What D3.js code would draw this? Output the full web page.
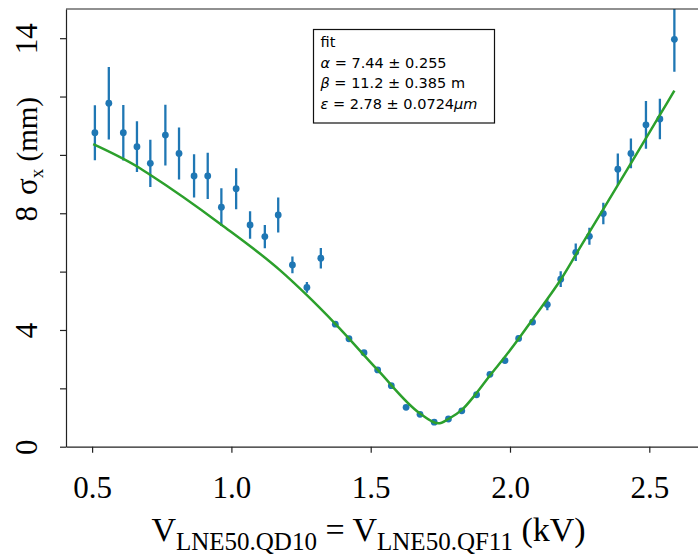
<!DOCTYPE html>
<html>
<head>
<meta charset="utf-8">
<script src="https://cdn.jsdelivr.net/npm/d3@7"></script>
<style>
  body { margin: 0; background: #fff; }
  svg { display: block; }
</style>
</head>
<body>
<div id="chart"></div>
<script>
const width = 698;
const height = 557;

// measured beam size vs quadrupole voltage
const voltage = [0.510, 0.560, 0.612, 0.661, 0.709, 0.763, 0.812, 0.866, 0.915, 0.964,
    1.017, 1.067, 1.120, 1.168, 1.219, 1.271, 1.321, 1.373, 1.422, 1.476,
    1.525, 1.574, 1.627, 1.677, 1.728, 1.779, 1.827, 1.880, 1.928, 1.982,
    2.031, 2.081, 2.134, 2.182, 2.236, 2.285, 2.335, 2.387, 2.434, 2.488,
    2.538, 2.590];
const sigma = [10.76, 11.77, 10.76, 10.28, 9.71, 10.68, 10.05, 9.28, 9.28, 8.21,
    8.84, 7.60, 7.20, 7.94, 6.23, 5.46, 6.46, 4.20, 3.70, 3.22,
    2.63, 2.09, 1.35, 1.11, 0.84, 0.95, 1.23, 1.78, 2.48, 2.95,
    3.71, 4.27, 4.87, 5.74, 6.66, 7.21, 7.99, 9.51, 10.05, 11.03,
    11.23, 13.96];
const sigmaErr = [0.94, 1.24, 0.95, 0.87, 0.81, 1.04, 0.89, 0.74, 0.79, 0.65,
    0.70, 0.47, 0.40, 0.60, 0.29, 0.18, 0.35, 0.08, 0.08, 0.08,
    0.08, 0.08, 0.08, 0.08, 0.08, 0.08, 0.08, 0.08, 0.08, 0.08,
    0.10, 0.10, 0.19, 0.27, 0.30, 0.29, 0.37, 0.54, 0.51, 0.82,
    0.69, 1.11];

// fitted curve
const fitVoltage = [0.504, 0.660, 0.708, 0.964, 1.174, 1.270, 1.373, 1.525, 1.677, 1.743,
    1.779, 1.827, 1.880, 1.928, 1.982, 2.031, 2.081, 2.134, 2.182, 2.255,
    2.335, 2.434, 2.538, 2.590];
const fitSigma = [10.37, 9.61, 9.32, 7.61, 6.05, 5.20, 4.21, 2.63, 1.14, 0.80,
    0.95, 1.26, 1.84, 2.44, 3.08, 3.70, 4.36, 5.06, 5.72, 6.88,
    8.14, 9.71, 11.37, 12.20];

const xTicks = [0.5, 1.0, 1.5, 2.0, 2.5];
const yTicks = [0, 2, 4, 6, 8, 10, 12, 14];
const yTickLabels = [0, 4, 8, 14];

const fitSymbols = ["α", "β", "ε"];
const fitValues = ["7.44", "11.2", "2.78"];
const fitErrors = ["0.255", "0.385", "0.0724"];
const fitUnits = ["", " m", "μm"];

const serif = "'Liberation Serif', 'Times New Roman', serif";
const sans = "'DejaVu Sans', sans-serif";
const blue = "#1f77b4";
const green = "#2ca02c";

const plot = {left: 66, top: 9, bottom: 446.7, right: 698};

const svg = d3.select("#chart")
    .append("svg")
    .attr("width", width)
    .attr("height", height);

const x = d3.scaleLinear()
    .domain([0.4063, 2.6748])
    .range([plot.left, plot.right]);

const y = d3.scaleLinear()
    .domain([0, 15])
    .range([plot.bottom, plot.top]);

svg.append("defs").append("clipPath")
    .attr("id", "plot-clip")
    .append("rect")
    .attr("x", plot.left)
    .attr("y", plot.top)
    .attr("width", plot.right - plot.left + 10)
    .attr("height", plot.bottom - plot.top);

const data = voltage.map((v, i) => ({v: v, s: sigma[i], e: sigmaErr[i]}));
const fitData = fitVoltage.map((v, i) => ({v: v, s: fitSigma[i]}));

const g = svg.append("g").attr("clip-path", "url(#plot-clip)");

// error bars
g.append("g")
    .selectAll("line")
    .data(data)
    .enter().append("line")
    .attr("x1", d => x(d.v))
    .attr("x2", d => x(d.v))
    .attr("y1", d => y(d.s - d.e))
    .attr("y2", d => y(d.s + d.e))
    .attr("stroke", blue)
    .attr("stroke-width", 2.3);

g.append("g")
    .selectAll("circle")
    .data(data)
    .enter().append("circle")
    .attr("cx", d => x(d.v))
    .attr("cy", d => y(d.s))
    .attr("r", 3.4)
    .attr("fill", blue);

const line = d3.line()
    .x(d => x(d.v))
    .y(d => y(d.s))
    .curve(d3.curveMonotoneX);

g.append("path")
    .datum(fitData)
    .attr("d", line)
    .attr("fill", "none")
    .attr("stroke", green)
    .attr("stroke-width", 2.5);

// axes
const xAxis = svg.append("g")
    .attr("transform", `translate(0,${plot.bottom})`)
    .call(d3.axisBottom(x)
        .tickValues(xTicks)
        .tickFormat(d3.format(".1f"))
        .tickSize(6)
        .tickSizeOuter(0));

xAxis.selectAll("text")
    .attr("y", 51)
    .attr("dy", 0)
    .attr("fill", "#000")
    .style("font-family", serif)
    .style("font-size", "31px");

const yAxis = svg.append("g")
    .attr("transform", `translate(${plot.left},0)`)
    .call(d3.axisLeft(y)
        .tickValues(yTicks)
        .tickFormat(d => yTickLabels.includes(d) ? d : "")
        .tickSize(6)
        .tickSizeOuter(0));

yAxis.selectAll("text")
    .attr("x", 0)
    .attr("y", -29)
    .attr("dy", 0)
    .attr("text-anchor", "middle")
    .attr("transform", "rotate(-90)")
    .attr("fill", "#000")
    .style("font-family", serif)
    .style("font-size", "31px");

svg.selectAll(".domain, .tick line")
    .attr("stroke", "#222")
    .attr("stroke-width", 1.2);

svg.append("line")
    .attr("x1", plot.left)
    .attr("x2", plot.right)
    .attr("y1", plot.top)
    .attr("y2", plot.top)
    .attr("stroke", "#222")
    .attr("stroke-width", 1.2);

// axis titles
const xTitle = svg.append("text")
    .attr("x", 368.5)
    .attr("y", 541)
    .attr("text-anchor", "middle")
    .style("font-family", serif)
    .style("font-size", "34px");
xTitle.append("tspan").text("V");
xTitle.append("tspan").attr("dy", 9).style("font-size", "25px").text("LNE50.QD10");
xTitle.append("tspan").attr("dy", -9).text(" = V");
xTitle.append("tspan").attr("dy", 9).style("font-size", "25px").text("LNE50.QF11");
xTitle.append("tspan").attr("dy", -9).text(" (kV)");

const yTitle = svg.append("text")
    .attr("transform", "translate(37,195) rotate(-90)")
    .attr("text-anchor", "start")
    .style("font-family", serif)
    .style("font-size", "29px");
yTitle.append("tspan").style("font-size", "31px").text("σ");
yTitle.append("tspan").attr("dy", 6).style("font-size", "19px").text("x");
yTitle.append("tspan").attr("dy", -6).text(" (mm)");

// fit legend
const legend = svg.append("g");
legend.append("rect")
    .attr("x", 313.5)
    .attr("y", 29.5)
    .attr("width", 181)
    .attr("height", 93.5)
    .attr("fill", "#fff")
    .attr("stroke", "#111")
    .attr("stroke-width", 1.2);

legend.append("text")
    .attr("x", 320.5)
    .attr("y", 46.5)
    .style("font-family", sans)
    .style("font-size", "14.5px")
    .text("fit");

fitSymbols.forEach((sym, i) => {
    const t = legend.append("text")
        .attr("x", 320.5)
        .attr("y", 67.5 + i * 20.7)
        .style("font-family", sans)
        .style("font-size", "14.5px");
    t.append("tspan").style("font-style", "italic").text(sym);
    t.append("tspan").text(` = ${fitValues[i]} ± ${fitErrors[i]}`);
    if (fitUnits[i] === "μm") {
        t.append("tspan").style("font-style", "italic").text(fitUnits[i]);
    } else {
        t.append("tspan").text(fitUnits[i]);
    }
});
</script>
</body>
</html>
